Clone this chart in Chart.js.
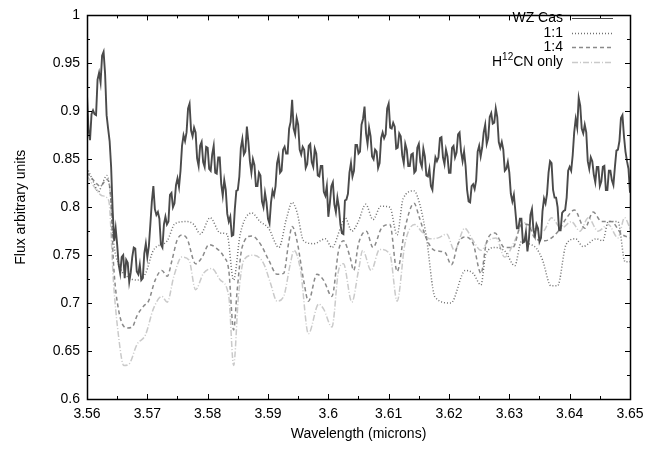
<!DOCTYPE html>
<html>
<head>
<meta charset="utf-8">
<script src="https://cdn.jsdelivr.net/npm/chart.js@4.4.1/dist/chart.umd.min.js"></script>
<style>
  html, body { margin: 0; padding: 0; background: #fff; }
  #wrap { width: 671px; height: 450px; }
</style>
</head>
<body>
<div id="wrap"><canvas id="c" width="671" height="450"></canvas></div>
<script>
// observed spectrum, sampled every 0.00025 micron from 3.56
const wzStart = 3.56;
const wzStep = 0.00025;
const wzFlux = [
  0.917, 0.881, 0.870, 0.897, 0.901, 0.897, 0.896, 0.933, 0.940, 0.930, 0.958, 0.962, 0.939, 0.896, 0.882, 0.869, 0.842, 0.797, 0.765, 0.778,
  0.761, 0.740, 0.731, 0.748, 0.750, 0.726, 0.745, 0.742, 0.722, 0.732, 0.748, 0.758, 0.757, 0.733, 0.730, 0.740, 0.724, 0.726, 0.752, 0.762,
  0.748, 0.759, 0.782, 0.806, 0.822, 0.798, 0.792, 0.795, 0.788, 0.761, 0.758, 0.782, 0.790, 0.782, 0.785, 0.813, 0.815, 0.800, 0.804, 0.823,
  0.830, 0.821, 0.838, 0.864, 0.875, 0.869, 0.878, 0.903, 0.908, 0.880, 0.874, 0.883, 0.878, 0.851, 0.843, 0.864, 0.868, 0.847, 0.842, 0.863,
  0.862, 0.840, 0.838, 0.855, 0.864, 0.836, 0.835, 0.852, 0.852, 0.824, 0.812, 0.828, 0.818, 0.793, 0.785, 0.790, 0.770, 0.771, 0.798, 0.817,
  0.818, 0.832, 0.862, 0.871, 0.855, 0.858, 0.884, 0.868, 0.848, 0.836, 0.850, 0.844, 0.822, 0.822, 0.836, 0.833, 0.806, 0.800, 0.815, 0.805,
  0.788, 0.783, 0.805, 0.817, 0.812, 0.822, 0.846, 0.853, 0.836, 0.838, 0.860, 0.863, 0.856, 0.856, 0.882, 0.889, 0.912, 0.882, 0.876, 0.893,
  0.886, 0.860, 0.855, 0.863, 0.860, 0.841, 0.845, 0.864, 0.866, 0.847, 0.842, 0.861, 0.856, 0.833, 0.832, 0.843, 0.843, 0.816, 0.812, 0.822,
  0.790, 0.804, 0.822, 0.826, 0.803, 0.795, 0.810, 0.800, 0.782, 0.773, 0.772, 0.807, 0.808, 0.814, 0.836, 0.846, 0.832, 0.838, 0.865, 0.865,
  0.856, 0.858, 0.886, 0.892, 0.905, 0.877, 0.866, 0.883, 0.874, 0.853, 0.850, 0.860, 0.858, 0.841, 0.846, 0.872, 0.878, 0.872, 0.876, 0.903,
  0.908, 0.883, 0.882, 0.888, 0.884, 0.861, 0.862, 0.877, 0.874, 0.854, 0.846, 0.866, 0.860, 0.843, 0.843, 0.855, 0.856, 0.836, 0.838, 0.862,
  0.866, 0.847, 0.842, 0.861, 0.853, 0.833, 0.832, 0.840, 0.822, 0.818, 0.838, 0.852, 0.848, 0.852, 0.872, 0.873, 0.852, 0.845, 0.860, 0.853,
  0.836, 0.836, 0.862, 0.864, 0.852, 0.857, 0.876, 0.878, 0.858, 0.848, 0.858, 0.843, 0.818, 0.806, 0.805, 0.822, 0.824, 0.819, 0.828, 0.858,
  0.864, 0.853, 0.862, 0.878, 0.886, 0.866, 0.872, 0.894, 0.898, 0.887, 0.888, 0.903, 0.894, 0.868, 0.862, 0.868, 0.860, 0.838, 0.840, 0.847,
  0.836, 0.814, 0.806, 0.813, 0.796, 0.778, 0.778, 0.788, 0.788, 0.763, 0.764, 0.774, 0.754, 0.767, 0.792, 0.798, 0.776, 0.770, 0.782, 0.778,
  0.764, 0.768, 0.796, 0.809, 0.804, 0.814, 0.836, 0.848, 0.846, 0.818, 0.810, 0.810, 0.800, 0.776, 0.776, 0.794, 0.796, 0.797, 0.810, 0.838,
  0.842, 0.838, 0.854, 0.878, 0.892, 0.883, 0.914, 0.906, 0.882, 0.877, 0.886, 0.878, 0.848, 0.840, 0.852, 0.848, 0.834, 0.826, 0.842, 0.842,
  0.822, 0.827, 0.842, 0.843, 0.818, 0.818, 0.838, 0.838, 0.828, 0.823, 0.842, 0.859, 0.860, 0.869, 0.893, 0.896, 0.874, 0.858, 0.848, 0.840,
  0.815
];

// model 1:1
const r11Wave = [3.5600, 3.5611, 3.5619, 3.5625, 3.5633, 3.5639, 3.5644, 3.5652, 3.5666, 3.5683,
  3.5697, 3.5710, 3.5733, 3.5746, 3.5766, 3.5777, 3.5788, 3.5804, 3.5821, 3.5832,
  3.5843, 3.5854, 3.5873, 3.5887, 3.5901, 3.5918, 3.5931, 3.5940, 3.5948, 3.5959,
  3.5976, 3.5995, 3.6006, 3.6020, 3.6028, 3.6039, 3.6049, 3.6062, 3.6074, 3.6087,
  3.6102, 3.6114, 3.6124, 3.6142, 3.6152, 3.6162, 3.6177, 3.6203, 3.6227, 3.6240,
  3.6253, 3.6261, 3.6276, 3.6293, 3.6309, 3.6320, 3.6332, 3.6345, 3.6355, 3.6369,
  3.6380, 3.6394, 3.6410, 3.6422, 3.6444, 3.6455, 3.6464, 3.6480, 3.6492, 3.6500];
const r11Flux = [0.841, 0.826, 0.816, 0.824, 0.833, 0.812, 0.765, 0.741, 0.728, 0.724,
  0.731, 0.755, 0.765, 0.783, 0.785, 0.782, 0.772, 0.789, 0.773, 0.772,
  0.724, 0.772, 0.794, 0.785, 0.778, 0.758, 0.789, 0.805, 0.795, 0.765,
  0.762, 0.767, 0.758, 0.778, 0.789, 0.775, 0.784, 0.803, 0.787, 0.801,
  0.800, 0.771, 0.809, 0.817, 0.802, 0.771, 0.706, 0.700, 0.734, 0.731,
  0.719, 0.751, 0.758, 0.754, 0.739, 0.764, 0.762, 0.757, 0.745, 0.718,
  0.718, 0.761, 0.767, 0.759, 0.767, 0.765, 0.785, 0.785, 0.743, 0.743];

// model 1:4
const r14Wave = [3.5600, 3.5611, 3.5622, 3.5633, 3.5639, 3.5644, 3.5652, 3.5666, 3.5675, 3.5683,
  3.5694, 3.5702, 3.5713, 3.5724, 3.5733, 3.5741, 3.5749, 3.5757, 3.5766, 3.5780,
  3.5791, 3.5802, 3.5813, 3.5827, 3.5835, 3.5843, 3.5849, 3.5857, 3.5873, 3.5887,
  3.5901, 3.5915, 3.5926, 3.5934, 3.5940, 3.5948, 3.5959, 3.5967, 3.5981, 3.5992,
  3.6006, 3.6017, 3.6025, 3.6036, 3.6042, 3.6050, 3.6063, 3.6074, 3.6088, 3.6102,
  3.6114, 3.6127, 3.6142, 3.6151, 3.6162, 3.6176, 3.6193, 3.6204, 3.6215, 3.6226,
  3.6240, 3.6253, 3.6262, 3.6276, 3.6292, 3.6306, 3.6320, 3.6331, 3.6342, 3.6359,
  3.6370, 3.6381, 3.6395, 3.6408, 3.6425, 3.6439, 3.6453, 3.6469, 3.6486, 3.6500];
const r14Flux = [0.836, 0.828, 0.822, 0.829, 0.812, 0.741, 0.694, 0.674, 0.675, 0.687,
  0.697, 0.702, 0.724, 0.734, 0.728, 0.745, 0.765, 0.771, 0.767, 0.741,
  0.748, 0.761, 0.758, 0.748, 0.734, 0.672, 0.714, 0.758, 0.770, 0.762,
  0.745, 0.730, 0.731, 0.762, 0.780, 0.765, 0.724, 0.702, 0.730, 0.724,
  0.707, 0.755, 0.765, 0.748, 0.734, 0.762, 0.775, 0.758, 0.778, 0.782,
  0.733, 0.778, 0.804, 0.789, 0.768, 0.755, 0.753, 0.740, 0.762, 0.769,
  0.762, 0.731, 0.763, 0.773, 0.758, 0.758, 0.782, 0.782, 0.768, 0.765,
  0.768, 0.775, 0.789, 0.797, 0.778, 0.795, 0.785, 0.785, 0.772, 0.768];

// model H12CN only
const hcnWave = [3.5600, 3.5611, 3.5625, 3.5636, 3.5644, 3.5652, 3.5661, 3.5669, 3.5683, 3.5697,
  3.5710, 3.5724, 3.5733, 3.5744, 3.5757, 3.5769, 3.5780, 3.5793, 3.5807, 3.5821,
  3.5835, 3.5843, 3.5851, 3.5860, 3.5876, 3.5893, 3.5904, 3.5915, 3.5926, 3.5937,
  3.5943, 3.5954, 3.5967, 3.5984, 3.5992, 3.6006, 3.6017, 3.6025, 3.6039, 3.6050,
  3.6057, 3.6071, 3.6085, 3.6102, 3.6114, 3.6127, 3.6143, 3.6154, 3.6168, 3.6182,
  3.6196, 3.6209, 3.6226, 3.6240, 3.6253, 3.6265, 3.6278, 3.6292, 3.6309, 3.6323,
  3.6339, 3.6356, 3.6370, 3.6386, 3.6403, 3.6417, 3.6431, 3.6447, 3.6464, 3.6480,
  3.6491, 3.6500];
const hcnFlux = [0.833, 0.822, 0.812, 0.807, 0.721, 0.667, 0.635, 0.636, 0.657, 0.667,
  0.694, 0.707, 0.701, 0.728, 0.748, 0.745, 0.714, 0.731, 0.736, 0.724,
  0.707, 0.635, 0.707, 0.745, 0.750, 0.741, 0.721, 0.702, 0.707, 0.741,
  0.755, 0.734, 0.668, 0.699, 0.694, 0.675, 0.734, 0.741, 0.701, 0.734,
  0.755, 0.734, 0.756, 0.751, 0.702, 0.762, 0.782, 0.775, 0.767, 0.768,
  0.772, 0.755, 0.778, 0.765, 0.755, 0.765, 0.768, 0.748, 0.765, 0.784,
  0.778, 0.775, 0.789, 0.778, 0.785, 0.775, 0.789, 0.775, 0.782, 0.768,
  0.789, 0.778];

const xTicks = [3.56, 3.57, 3.58, 3.59, 3.60, 3.61, 3.62, 3.63, 3.64, 3.65];
const yTicks = [0.6, 0.65, 0.7, 0.75, 0.8, 0.85, 0.9, 0.95, 1];

const FONT = "'Liberation Sans', Arial, sans-serif";

function pairs(xs, ys) { return xs.map((x, i) => ({ x, y: ys[i] })); }
const wzPoints = wzFlux.map((y, i) => ({ x: wzStart + i * wzStep, y }));

// gnuplot-ish frame: box, inward mirrored ticks, key at top right
const framePlugin = {
  id: 'frame',
  afterDraw(chart) {
    const { ctx, chartArea: a, scales } = chart;
    const xs = scales.x, ys = scales.y;
    ctx.save();
    ctx.strokeStyle = '#000';
    ctx.lineWidth = 1;
    ctx.beginPath();
    for (let v = 3.56; v <= 3.6501; v += 0.005) {
      const px = Math.round(xs.getPixelForValue(v)) + 0.5;
      const major = Math.abs(v * 100 - Math.round(v * 100)) < 1e-6;
      const len = major ? 5 : 3;
      ctx.moveTo(px, a.bottom); ctx.lineTo(px, a.bottom - len);
      ctx.moveTo(px, a.top); ctx.lineTo(px, a.top + len);
    }
    for (let v = 0.6; v <= 1.0001; v += 0.025) {
      const py = Math.round(ys.getPixelForValue(v)) + 0.5;
      const major = Math.abs(v * 20 - Math.round(v * 20)) < 1e-6;
      const len = major ? 5 : 3;
      ctx.moveTo(a.left, py); ctx.lineTo(a.left + len, py);
      ctx.moveTo(a.right, py); ctx.lineTo(a.right - len, py);
    }
    ctx.stroke();
    ctx.lineWidth = 1.5;
    ctx.strokeRect(Math.round(a.left) + 0.5, Math.round(a.top) + 0.5,
      Math.round(a.right - a.left), Math.round(a.bottom - a.top));

    // key
    const textRight = 563, lineL = 572, lineR = 613;
    const rowY = [18, 33, 47, 62];
    ctx.fillStyle = '#000';
    ctx.textBaseline = 'middle';
    ctx.textAlign = 'right';
    chart.data.datasets.forEach((ds, i) => {
      const y = rowY[i];
      if (ds.label.startsWith('H')) {
        ctx.font = '14px ' + FONT;
        const rest = 'CN only';
        ctx.fillText(rest, textRight, y);
        let x = textRight - ctx.measureText(rest).width;
        ctx.font = '10px ' + FONT;
        ctx.fillText('12', x, y - 5);
        x -= ctx.measureText('12').width;
        ctx.font = '14px ' + FONT;
        ctx.fillText('H', x, y);
      } else {
        ctx.font = '14px ' + FONT;
        ctx.fillText(ds.label, textRight, y);
      }
      ctx.strokeStyle = ds.borderColor;
      ctx.lineWidth = i === 0 ? 1.2 : ds.borderWidth;
      ctx.setLineDash(ds.borderDash || []);
      ctx.beginPath();
      ctx.moveTo(lineL, y + 0.5); ctx.lineTo(lineR, y + 0.5);
      ctx.stroke();
      ctx.setLineDash([]);
    });
    ctx.restore();
  }
};

new Chart(document.getElementById('c'), {
  type: 'line',
  data: {
    datasets: [
      { label: 'WZ Cas', data: wzPoints, borderColor: '#4a4a4a', borderWidth: 1.9, pointRadius: 0, tension: 0 },
      { label: '1:1', data: pairs(r11Wave, r11Flux), borderColor: '#707070', borderWidth: 1.5, borderDash: [1, 2], pointRadius: 0, cubicInterpolationMode: 'monotone' },
      { label: '1:4', data: pairs(r14Wave, r14Flux), borderColor: '#8a8a8a', borderWidth: 1.5, borderDash: [4, 3], pointRadius: 0, cubicInterpolationMode: 'monotone' },
      { label: 'H12CN only', data: pairs(hcnWave, hcnFlux), borderColor: '#cacaca', borderWidth: 1.5, borderDash: [6, 2, 1, 2], pointRadius: 0, cubicInterpolationMode: 'monotone' }
    ]
  },
  options: {
    responsive: false,
    animation: false,
    layout: { padding: { left: 0, right: 41, top: 5, bottom: 0 } },
    plugins: { legend: { display: false }, tooltip: { enabled: false } },
    scales: {
      x: {
        type: 'linear', min: 3.56, max: 3.65,
        afterBuildTicks(s) { s.ticks = xTicks.map(v => ({ value: v })); },
        afterFit(s) { s.height = 51; },
        grid: { display: false, drawTicks: false },
        border: { display: false },
        ticks: { color: '#000', font: { family: FONT, size: 14 }, padding: 7, maxRotation: 0, autoSkip: false,
          callback: v => String(Number(v.toFixed(3))) },
        title: { display: true, text: 'Wavelength (microns)', color: '#000', font: { family: FONT, size: 14 }, padding: { top: 0, bottom: 7 } }
      },
      y: {
        type: 'linear', min: 0.6, max: 1,
        afterBuildTicks(s) { s.ticks = yTicks.map(v => ({ value: v })); },
        afterFit(s) { s.width = 87; },
        grid: { display: false, drawTicks: false },
        border: { display: false },
        ticks: { color: '#000', font: { family: FONT, size: 14 }, padding: 7, autoSkip: false,
          callback: v => String(Number(v.toFixed(3))) },
        title: { display: true, text: 'Flux arbitrary units', color: '#000', font: { family: FONT, size: 14 }, padding: { top: 13, bottom: 0 } }
      }
    }
  },
  plugins: [framePlugin]
});
</script>
</body>
</html>
